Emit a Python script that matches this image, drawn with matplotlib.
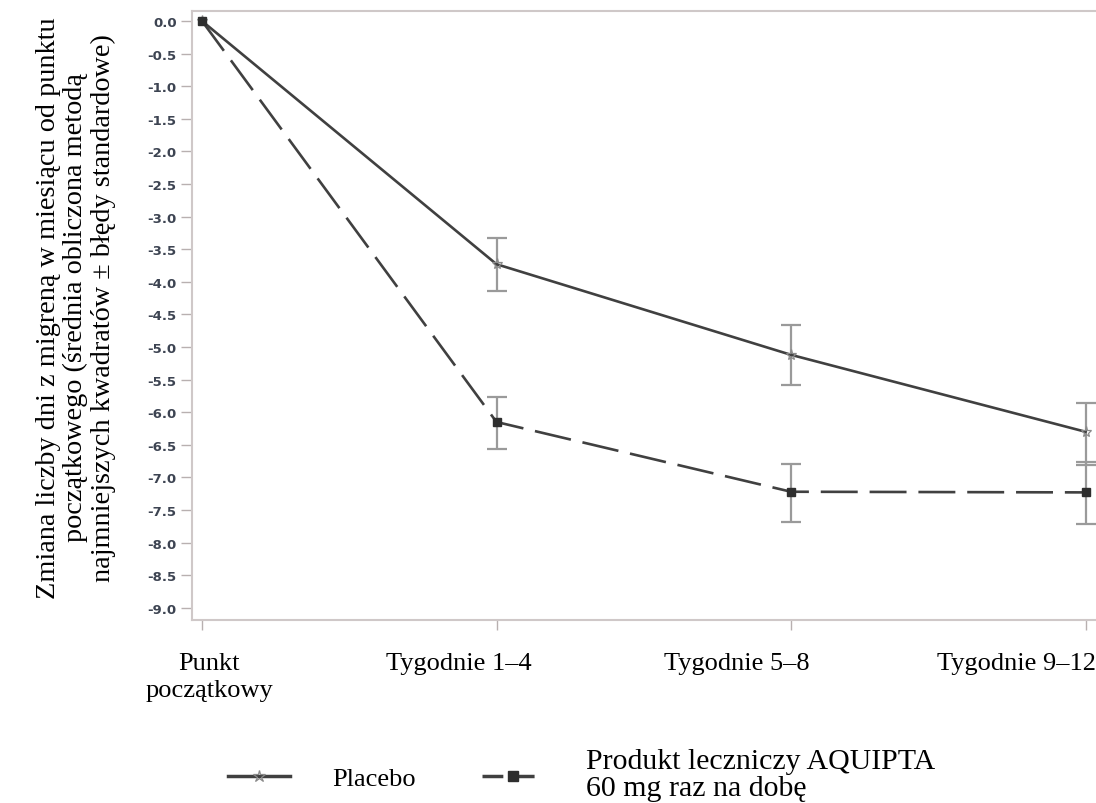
import numpy as np
import matplotlib
matplotlib.use("Agg")
import matplotlib.pyplot as plt
from matplotlib.lines import Line2D

# dane
okresy = ["Punkt\npoczątkowy", "Tygodnie 1–4", "Tygodnie 5–8", "Tygodnie 9–12"]
placebo = [0.0, -3.73, -5.12, -6.30]
placebo_dol = [0.0, 0.41, 0.46, 0.51]
placebo_gora = [0.0, 0.40, 0.46, 0.44]
aquipta = [0.0, -6.15, -7.22, -7.23]
aquipta_dol = [0.0, 0.41, 0.46, 0.48]
aquipta_gora = [0.0, 0.38, 0.43, 0.46]
y_ticks = np.arange(0.0, -9.01, -0.5)

kolor = "#404040"
szary = "#9a9a9a"
serif = ["Liberation Serif", "DejaVu Serif"]

fig = plt.figure(figsize=(10.96, 8.04), dpi=100)
ax = fig.add_axes([192/1096, 1 - 621/804, 1 - 192/1096, (621 - 12)/804])

x = np.arange(len(okresy))

ax.errorbar(x[1:], placebo[1:], yerr=[placebo_dol[1:], placebo_gora[1:]], fmt="none",
            ecolor=szary, elinewidth=1.6, capsize=7, capthick=1.6, zorder=2)
ax.errorbar(x[1:], aquipta[1:], yerr=[aquipta_dol[1:], aquipta_gora[1:]], fmt="none",
            ecolor=szary, elinewidth=1.6, capsize=7, capthick=1.6, zorder=2)

ax.plot(x, placebo, color=kolor, lw=1.9, marker="*", ms=8, mfc="none", mec="#8a8a8a",
        mew=0.9, zorder=3)
ax.plot(x, aquipta, color=kolor, lw=1.9, ls=(0, (14, 4.5)), marker="s", ms=6,
        mfc="#2e2e2e", mec="#2e2e2e", zorder=4)

x_px = 294.5
ax.set_xlim(-10/x_px, (1096 - 202)/x_px)
ax.set_ylim(-(621 - 22)/65.2, 10/65.2)

ax.set_yticks(y_ticks)
ax.set_yticklabels(["%.1f" % v if v != 0 else "0.0" for v in y_ticks],
                   fontsize=9.5, fontweight="bold", color="#3d4452", family="DejaVu Sans")
ax.set_xticks(x)
ax.set_xticklabels([])

# podpisy osi x są w oryginale przesunięte względem znaczników (w pikselach)
przesuniecia = [7, -38, -54, -69]
for xi, lab, dx in zip(x, okresy, przesuniecia):
    ax.annotate(lab, xy=(xi, 0), xycoords=ax.get_xaxis_transform(),
                xytext=(dx*0.72, -23), textcoords="offset points",
                ha="center", va="top", fontsize=19, family=serif,
                linespacing=1.3, annotation_clip=False)

ax.tick_params(axis="y", length=8, width=1, color="#b8b0b0", pad=3)
ax.tick_params(axis="x", length=7, width=1, color="#b8b0b0")

for s in ["left", "bottom", "top"]:
    ax.spines[s].set_color("#cfc8c8")
    ax.spines[s].set_linewidth(1.5)
ax.spines["right"].set_visible(False)

fig.text(76/1096, 1 - 308/804,
         "Zmiana liczby dni z migreną w miesiącu od punktu\n"
         "początkowego (średnia obliczona metodą\n"
         "najmniejszych kwadratów ± błędy standardowe)",
         rotation=90, ha="center", va="center", fontsize=20.3, family=serif,
         linespacing=1.1, multialignment="center")

uchwyty = [
    Line2D([], [], color=kolor, lw=2.5, marker="*", ms=9, mfc="none", mec="#8a8a8a", mew=0.9),
    Line2D([], [], color=kolor, lw=2.5, ls=(0, (6, 3)), marker="s", ms=7,
           mfc="#2e2e2e", mec="#2e2e2e"),
]
leg = fig.legend(uchwyty, ["Placebo", "Produkt leczniczy AQUIPTA\n60 mg raz na dobę"],
                 loc="center left", bbox_to_anchor=(228/1096, 1 - 776/804), ncol=2,
                 frameon=False, borderpad=0, borderaxespad=0, handlelength=2.35,
                 handletextpad=1.6, columnspacing=2.5, numpoints=1,
                 prop={"family": serif, "size": 19})
leg.get_texts()[1].set_fontsize(21.5)
leg.get_texts()[1].set_linespacing(1.05)

fig.savefig("out.png", dpi=100)
